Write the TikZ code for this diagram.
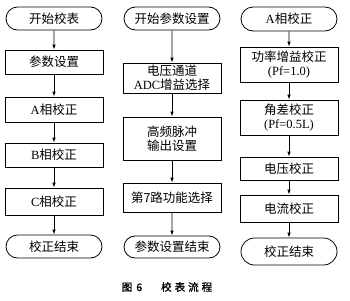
\documentclass[tikz,border=0pt]{standalone}
\usepackage{fontspec}
\usepackage{tikz}
\usetikzlibrary{arrows.meta,shapes.misc}
\setmainfont{Liberation Serif}
\newfontfamily\cjk{Noto Sans CJK SC}
\newfontfamily\cjkhei[FakeBold=1.2]{Noto Sans CJK SC}

\tikzset{
  base/.style={draw,line width=0.8pt,minimum width=98pt,inner sep=1pt,
               align=center,font=\cjk\fontsize{12.5}{14}\selectfont},
  termbox/.style={base,rounded rectangle,minimum height=23pt},
  procbox/.style={base,rectangle},
  flow/.style={line width=0.8pt,-{Latex[length=5pt,width=3.5pt]}}
}

\begin{document}
\begin{tikzpicture}[x=1pt,y=-1pt]
  \useasboundingbox (0,0) rectangle (350,300);

  % left column
  \node[termbox] (start1) at (54,18.5) {开始校表};
  \node[procbox,minimum height=24pt] (param1) at (54,62) {参数设置};
  \node[procbox,minimum height=25pt] (phaseA) at (54,109.5) {{\rmfamily A}相校正};
  \node[procbox,minimum height=24pt] (phaseB) at (54,155) {{\rmfamily B}相校正};
  \node[procbox,minimum height=27pt] (phaseC) at (54,201.5) {{\rmfamily C}相校正};
  \node[termbox] (end1) at (54,246.5) {校正结束};

  % middle column
  \node[termbox] (start2) at (172,18.5) {开始参数设置};
  \node[procbox,minimum height=30pt] (adcgain) at (172,78)
    {电压通道\\{\rmfamily ADC}增益选择};
  \node[procbox,minimum height=43pt] (pulse) at (172,138.5)
    {高频脉冲\\输出设置};
  \node[procbox,minimum height=29pt] (route7) at (172,197.5) {第7路功能选择};
  \node[termbox,minimum height=22pt] (end2) at (172,247) {参数设置结束};

  % right column
  \node[termbox,minimum height=24pt] (start3) at (289,19) {{\rmfamily A}相校正};
  \node[procbox,minimum height=35pt] (powgain) at (289,64.5)
    {功率增益校正\\{\rmfamily (Pf=1.0)}};
  \node[procbox,minimum height=35pt] (angle) at (289,117.5)
    {角差校正\\{\rmfamily (Pf=0.5L)}};
  \node[procbox,minimum height=23pt] (volt) at (289,168.5) {电压校正};
  \node[procbox,minimum height=27pt] (curr) at (289,208.5) {电流校正};
  \node[termbox,minimum height=27pt] (end3) at (289,251.5) {校正结束};

  % arrows
  \foreach \a/\b in {start1/param1,param1/phaseA,phaseA/phaseB,phaseB/phaseC,
                     phaseC/end1,start2/adcgain,adcgain/pulse,pulse/route7,
                     route7/end2,start3/powgain,powgain/angle,angle/volt,
                     volt/curr,curr/end3}
    \draw[flow] (\a) -- (\b);

  \node[font=\cjkhei\fontsize{10.5}{12}\selectfont] (caption) at (167,287)
    {图\hspace{4pt}6\hspace{19pt}校\hspace{3pt}表\hspace{3pt}流\hspace{3pt}程};
\end{tikzpicture}
\end{document}
